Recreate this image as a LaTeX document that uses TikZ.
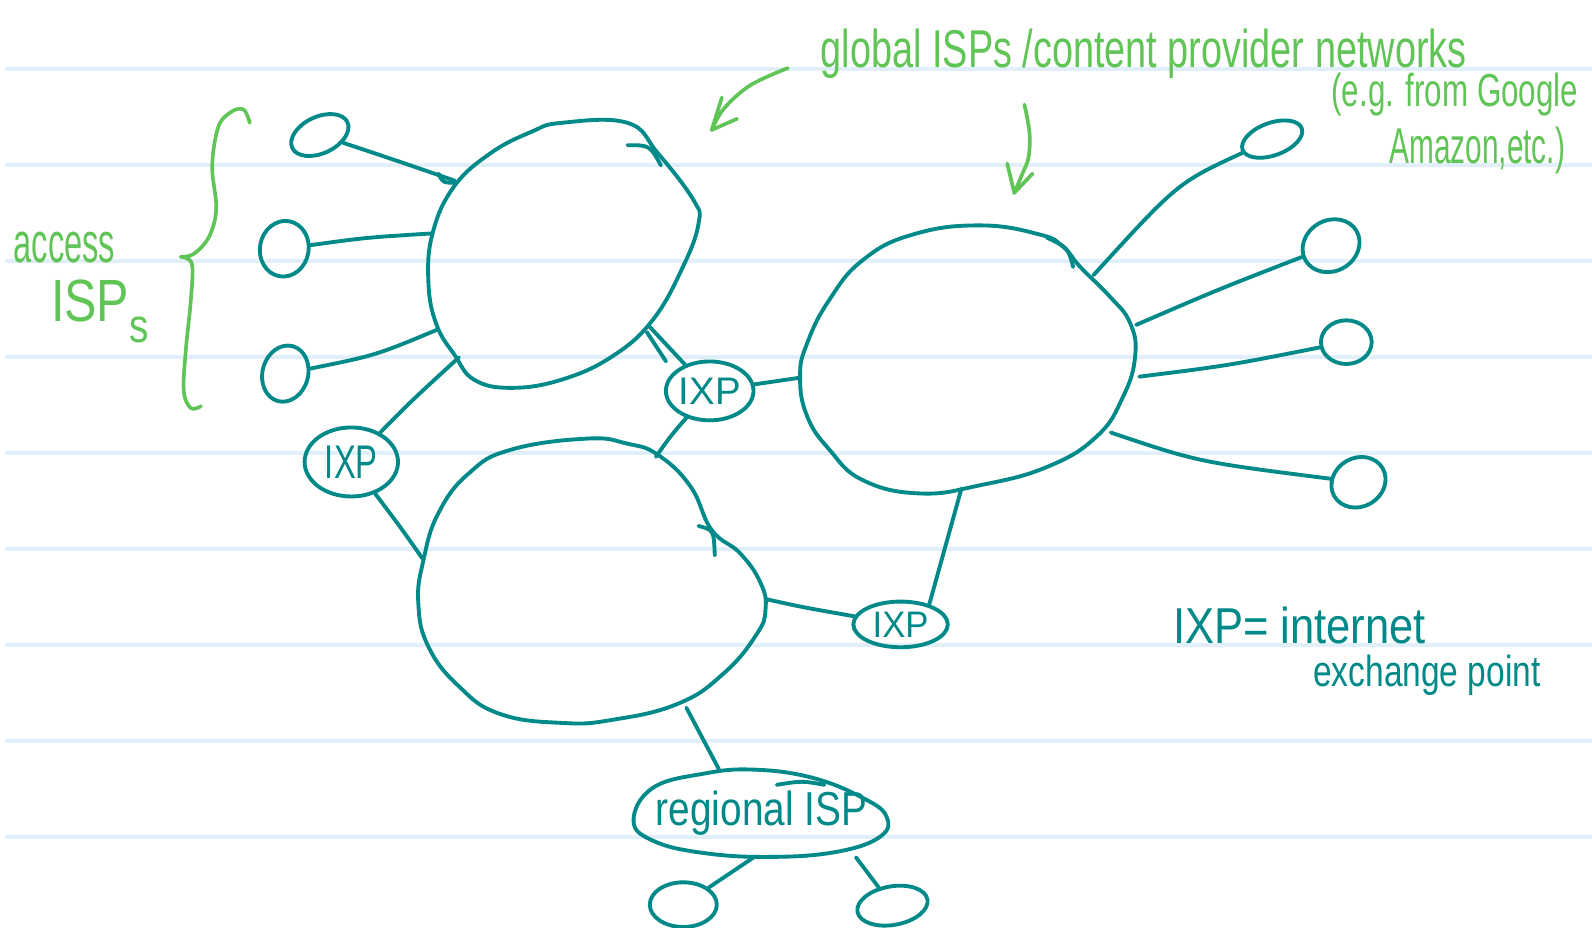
\documentclass[tikz,border=0pt]{standalone}
\usepackage{fontspec}
\setmainfont{Liberation Sans}
\usetikzlibrary{shapes.geometric}
\definecolor{inkteal}{RGB}{0,137,137}
\definecolor{inkgreen}{RGB}{96,196,86}
\definecolor{ruleblue}{RGB}{224,239,249}
\newcommand{\fitbox}[3]{\resizebox{#1}{#2}{#3}}
\begin{document}
\begin{tikzpicture}[x=0.5pt,y=-0.5pt,
  ink/.style={draw=inkteal,line width=1.9pt,line cap=round,line join=round},
  gink/.style={draw=inkgreen,line width=1.8pt,line cap=round,line join=round},
  isp/.style={ink,ellipse,inner sep=0pt},
  ixp/.style={ink,ellipse,inner sep=0pt,text=inkteal},
  tlabel/.style={inner sep=0pt,anchor=base west,text=inkteal},
  glabel/.style={inner sep=0pt,anchor=base west,text=inkgreen},
  ruling/.style={draw=ruleblue,line width=2pt}]
\useasboundingbox (0,0) rectangle (1568,914);
\fill[white] (0,0) rectangle (1568,914);
\foreach \y in {68,162.5,257,351.5,446,540.5,635,730,824.5}
  \draw[ruling] (5,\y) -- (1568,\y);

% blobs (global ISPs)
\draw[ink] plot[smooth cycle,tension=0.7] coordinates {(553,121) (618,121) (648,151) (683,197) (688,220) (673,262) (643,315) (603,351) (553,374) (503,382) (467,374) (448,350) (430,320) (422,279) (426,230) (447,184) (483,151) (523,130)};
\draw[ink] plot[smooth cycle,tension=0.75] coordinates {(965,222) (899,231) (850,256) (817,295) (795,338) (788,371) (795,410) (817,443) (850,473) (906,486) (965,478) (1031,460) (1080,430) (1106,391) (1118,351) (1113,318) (1093,292) (1064,263) (1047,243) (1024,231)};
\draw[ink] plot[smooth cycle,tension=0.75] coordinates {(578,432) (503,443) (462,466) (432,505) (417,552) (412,594) (422,637) (452,676) (492,703) (553,712) (603,709) (668,693) (713,663) (745,625) (754,600) (749,574) (729,545) (701,522) (680,479) (648,448) (618,437)};
\draw[ink] (618,143) .. controls (640,143) .. (651,163);
\draw[ink] (1031,234) .. controls (1052,244) .. (1057,263);
\draw[ink] (688,518) .. controls (703,522) .. (704,547);

% attachment points on the blobs
\coordinate (a1) at (448,178);
\coordinate (a2) at (424,230);
\coordinate (a3) at (430,325);
\coordinate (a4) at (452,352);
\coordinate (a5) at (640,322);
\coordinate (b1) at (788,372);
\coordinate (b2) at (947,481);
\coordinate (b3) at (1077,271);
\coordinate (b4) at (1119,320);
\coordinate (b5) at (1122,371);
\coordinate (b6) at (1094,426);
\coordinate (c1) at (416,550);
\coordinate (c2) at (646,450);
\coordinate (c3) at (754,590);
\coordinate (c4) at (676,697);

% access ISPs
\node[isp,minimum width=30pt,minimum height=18pt,rotate=25] (L1) at (315,133) {};
\node[isp,minimum width=24pt,minimum height=27.5pt,rotate=-10] (L2) at (280,245) {};
\node[isp,minimum width=22.5pt,minimum height=28pt,rotate=-15] (L3) at (281,368) {};
\node[isp,minimum width=31pt,minimum height=16pt,rotate=20] (R1) at (1253,137) {};
\node[isp,minimum width=29pt,minimum height=25pt,rotate=30] (R2) at (1311,242) {};
\node[isp,minimum width=25pt,minimum height=21.5pt] (R3) at (1326,337) {};
\node[isp,minimum width=27.5pt,minimum height=24pt,rotate=30] (R4) at (1338,475) {};
\node[isp,minimum width=33pt,minimum height=22pt] (BL) at (673,891) {};
\node[isp,minimum width=35pt,minimum height=19pt,rotate=10] (BR) at (879,892) {};

% IXPs
\node[ixp,minimum width=46pt,minimum height=34pt] (X1) at (346,455) {\fitbox{26pt}{16pt}{IXP}};
\node[ixp,minimum width=42.5pt,minimum height=29pt] (X2) at (699,385) {\fitbox{30.5pt}{13pt}{IXP}};
\node[ixp,minimum width=46.5pt,minimum height=22.5pt] (X3) at (887,615) {\fitbox{27.5pt}{12.5pt}{IXP}};

% regional ISP
\node[inner sep=0pt,minimum width=125pt,minimum height=43pt,text=inkteal] (reg) at (750,801) {\raisebox{-1pt}{\fitbox{104pt}{17pt}{regional ISP}}};
\draw[ink] plot[smooth cycle,tension=0.7] coordinates {(624,808) (643,776) (693,762) (742,758) (800,766) (850,786) (873,804) (867,824) (824,839) (758,844) (692,840) (643,828)};
\draw[ink] (765,773) .. controls (790,769) .. (812,773);

% connectors
\draw[ink] (L1) .. controls (390,158) .. (a1);
\draw[ink] (432,171) .. controls (436,180) .. (450,180);
\draw[ink] (L2) .. controls (360,234) .. (a2);
\draw[ink] (L3) .. controls (370,350) .. (a3);
\draw[ink] (a4) .. controls (405,395) .. (X1);
\draw[ink] (X1) .. controls (395,520) .. (c1);
\draw[ink] (a5) -- (X2);
\draw[ink] (637,327) -- (656,356);
\draw[ink] (X2) -- (b1);
\draw[ink] (X2) .. controls (660,430) .. (c2);
\draw[ink] (c3) .. controls (790,598) .. (X3);
\draw[ink] (X3.35) -- (b2);
\draw[ink] (b3) .. controls (1160,180) .. (R1);
\draw[ink] (b4) .. controls (1200,285) .. (R2);
\draw[ink] (b5) .. controls (1210,360) .. (R3);
\draw[ink] (b6) .. controls (1180,455) .. (R4);
\draw[ink] (c4) -- (reg.134);
\draw[ink] (reg.-100) -- (BL);
\draw[ink] (reg.-25) -- (BR);

% green annotations
\draw[gink] plot[smooth,tension=0.6] coordinates {(246,121) (240,108) (228,110) (215,125) (209,164) (213,205) (206,233) (191,250) (178,253)};
\draw[gink] plot[smooth,tension=0.6] coordinates {(178,253) (189,260) (188,295) (183,345) (181,385) (188,402) (198,400)};
\draw[gink] plot[smooth,tension=0.6] coordinates {(776,67) (739,84) (713,107) (701,128)};
\draw[gink] (711,96) -- (701,128) -- (726,117);
\draw[gink] plot[smooth,tension=0.6] coordinates {(1009,103) (1014,131) (1013,155) (1007,171) (999,190)};
\draw[gink] (992,161) -- (999,190) -- (1017,171);

\node[glabel] (gtitle) at (808,66) {\fitbox{318pt}{19pt}{global ISPs /content provider networks}};
\node[glabel] (eg) at (1311,105) {\fitbox{121.5pt}{16.5pt}{(e.g. from Google}};
\node[glabel] (amz) at (1368,161) {\fitbox{86.5pt}{18pt}{Amazon,etc.)}};
\node[glabel] (acc) at (13,259) {\fitbox{50pt}{15pt}{access}};
\node[glabel] (isps) at (50,317) {\fitbox{48pt}{20.5pt}{ISP\raisebox{-0.35em}{\footnotesize s}}};

\node[tlabel] (def1) at (1155,634) {\fitbox{124.5pt}{18pt}{IXP= internet}};
\node[tlabel] (def2) at (1293,676) {\fitbox{112pt}{15.5pt}{exchange point}};
\end{tikzpicture}
\end{document}
